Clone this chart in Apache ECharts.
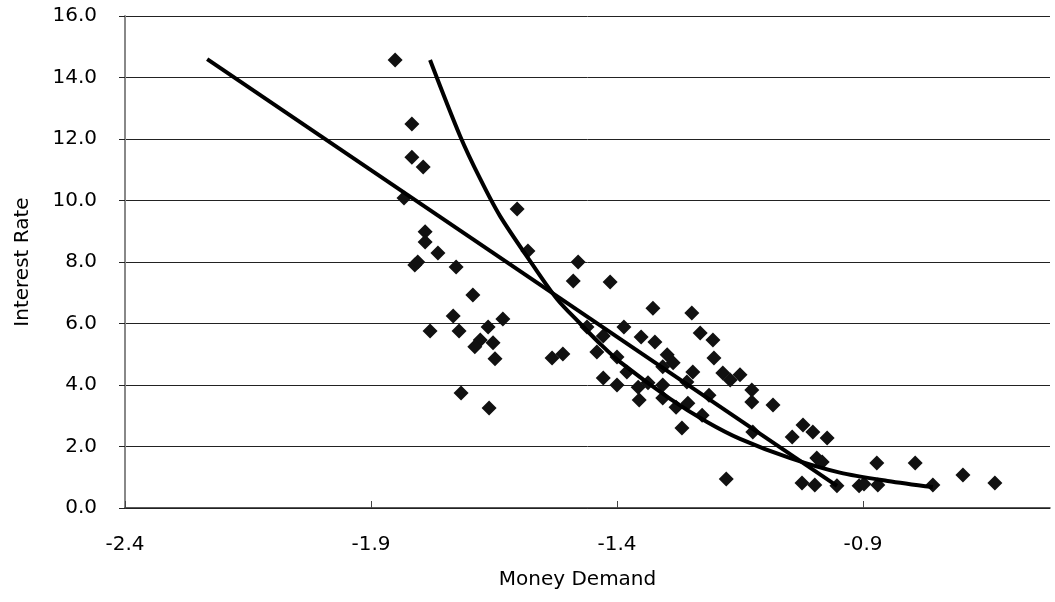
<!DOCTYPE html>
<html>
<head>
<meta charset="utf-8">
<title>Money Demand vs Interest Rate</title>
<script src="https://cdn.jsdelivr.net/npm/echarts@6/dist/echarts.min.js"></script>
<style>
  html, body { margin: 0; padding: 0; background: #fff; }
  #chart { width: 1055px; height: 602px; }
</style>
</head>
<body>
<div id="chart"></div>
<script>
// observed points: money demand (x), interest rate (y)
var demand = [
  -1.851, -1.817, -1.817, -1.794, -1.833, -1.790, -1.790, -1.764, -1.811, -1.805,
  -1.727, -1.693, -1.733, -1.780, -1.721, -1.662, -1.678, -1.689, -1.652, -1.648,
  -1.632, -1.717, -1.660, -1.603, -1.581, -1.532, -1.510, -1.479, -1.489, -1.414,
  -1.327, -1.248, -1.461, -1.428, -1.386, -1.351, -1.323, -1.231, -1.205, -1.441,
  -1.400, -1.298, -1.286, -1.307, -1.203, -1.380, -1.428, -1.400, -1.357, -1.337,
  -1.307, -1.246, -1.258, -1.185, -1.170, -1.150, -1.126, -1.126, -1.083, -1.213,
  -1.355, -1.307, -1.280, -1.256, -1.227, -1.268, -1.124, -1.022, -1.002, -1.044,
  -0.973, -0.994, -0.983, -1.178, -1.024, -0.998, -0.953, -0.908, -0.898, -0.870,
  -0.872, -0.794, -0.758, -0.697, -0.632
];
var rate = [
  14.57, 12.49, 11.41, 11.09, 10.08, 8.98, 8.65, 8.29, 7.90, 8.00,
  7.84, 6.93, 6.24, 5.76, 5.76, 5.89, 5.46, 5.24, 5.37, 4.85,
  6.15, 3.74, 3.25, 9.72, 8.36, 4.88, 5.01, 8.00, 7.38, 7.35,
  6.50, 6.34, 5.89, 5.59, 5.89, 5.56, 5.40, 5.69, 5.46, 5.07,
  4.91, 4.98, 4.72, 4.59, 4.88, 4.42, 4.23, 4.00, 3.93, 4.07,
  4.00, 4.42, 4.10, 4.39, 4.16, 4.33, 3.84, 3.45, 3.35, 3.67,
  3.51, 3.58, 3.28, 3.41, 3.02, 2.60, 2.47, 2.70, 2.47, 2.31,
  2.28, 1.63, 1.50, 0.94, 0.81, 0.75, 0.72, 0.72, 0.78, 0.75,
  1.46, 1.46, 0.75, 1.07, 0.81
];

// linear trend line (end points)
var linX = [-2.233, -0.953];
var linY = [14.60, 0.72];

// curved trend line
var curveX = [-1.780, -1.719, -1.678, -1.638, -1.571, -1.522, -1.475, -1.435, -1.394, -1.292, -1.217, -1.150, -1.048, -0.947, -0.850, -0.758];
var curveY = [14.57, 12.10, 10.70, 9.50, 7.90, 6.80, 6.00, 5.35, 4.75, 3.55, 2.80, 2.25, 1.62, 1.15, 0.88, 0.68];

// tick positions shown on the x axis
var xTicks = [-2.4, -1.9, -1.4, -0.9];

function pairs(xs, ys) {
  return xs.map(function (x, i) { return [x, ys[i]]; });
}

var chart = echarts.init(document.getElementById('chart'));

var labelFont = {
  fontFamily: 'DejaVu Sans',
  fontSize: 20,
  color: '#000'
};

var option = {
  animation: false,
  backgroundColor: '#fff',
  grid: {
    left: 125,
    right: 5,
    top: 16,
    bottom: 94
  },
  xAxis: {
    type: 'value',
    min: -2.4,
    max: -0.52,
    name: 'Money Demand',
    nameLocation: 'middle',
    nameGap: 62,
    nameTextStyle: Object.assign({ padding: [0, 20, 0, 0] }, labelFont),
    axisLine: { onZero: false, lineStyle: { color: '#222', width: 1.5 } },
    axisTick: { inside: true, length: 7, customValues: xTicks, lineStyle: { color: '#444' } },
    axisLabel: Object.assign({
      margin: 27,
      customValues: xTicks,
      formatter: function (v) { return v.toFixed(1); }
    }, labelFont),
    splitLine: { show: false }
  },
  yAxis: {
    type: 'value',
    min: 0,
    max: 16,
    interval: 2,
    name: 'Interest Rate',
    nameLocation: 'middle',
    nameGap: 92,
    nameTextStyle: labelFont,
    axisLine: { show: true, lineStyle: { color: '#888', width: 2 } },
    axisTick: { show: true, length: 6, lineStyle: { color: '#222' } },
    axisLabel: Object.assign({ margin: 28, formatter: function (v) { return v.toFixed(1); } }, labelFont),
    splitLine: { show: true, lineStyle: { color: '#222', width: 1 } }
  },
  series: [
    {
      type: 'scatter',
      symbol: 'diamond',
      symbolSize: 15,
      itemStyle: { color: '#111', opacity: 1 },
      data: pairs(demand, rate),
      z: 3
    },
    {
      type: 'line',
      data: pairs(linX, linY),
      showSymbol: false,
      lineStyle: { color: '#000', width: 4 },
      z: 4
    },
    {
      type: 'line',
      data: pairs(curveX, curveY),
      smooth: 0.3,
      showSymbol: false,
      lineStyle: { color: '#000', width: 4 },
      z: 4
    }
  ]
};

chart.setOption(option);
</script>
</body>
</html>
